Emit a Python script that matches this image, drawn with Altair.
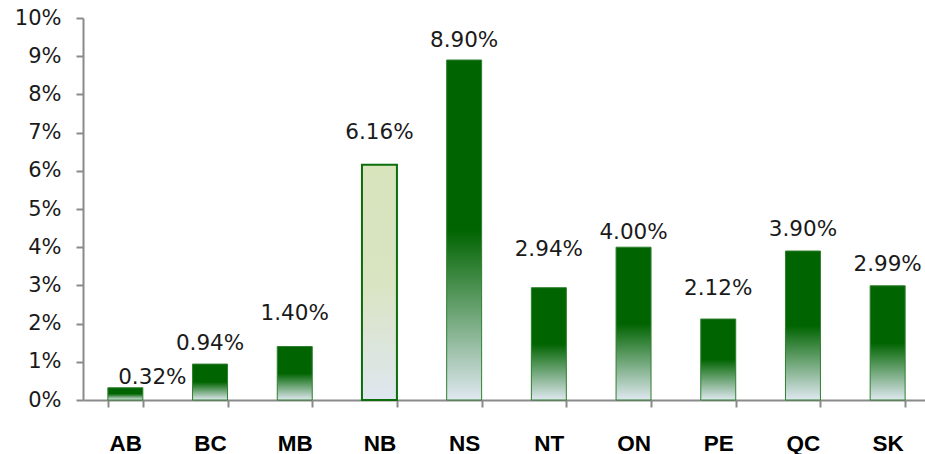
import altair as alt
import pandas as pd

# Provincial rates (percent)
regions = ["AB", "BC", "MB", "NB", "NS", "NT", "ON", "PE", "QC", "SK"]
rates = [0.32, 0.94, 1.40, 6.16, 8.90, 2.94, 4.00, 2.12, 3.90, 2.99]
highlighted = ["NB"]
y_ticks = [0, 1, 2, 3, 4, 5, 6, 7, 8, 9, 10]

# Layout (pixels)
PLOT_W, PLOT_H = 842, 382
BAND_RANGE = 847
PAD_INNER = 0.587

# Pixel gap between each value label's baseline and the top of its bar
label_gap = {"AB": 4, "BC": 14, "MB": 27, "NB": 26, "NS": 13,
             "NT": 32, "ON": 8, "PE": 24, "QC": 15, "SK": 15}

df = pd.DataFrame({"region": regions, "rate": rates})
df["label"] = df["rate"].map(lambda v: f"{v:.2f}%")
df["label_y"] = df["rate"] + df["region"].map(label_gap) * 10 / PLOT_H

DARK = "#006400"
green_fill = {
    "gradient": "linear", "x1": 0, "y1": 0, "x2": 0, "y2": 1,
    "stops": [
        {"offset": 0, "color": DARK},
        {"offset": 0.5, "color": DARK},
        {"offset": 1, "color": "#dfe8f0"},
    ],
}
pale_fill = {
    "gradient": "linear", "x1": 0, "y1": 0, "x2": 0, "y2": 1,
    "stops": [
        {"offset": 0, "color": "#d7e4bc"},
        {"offset": 0.5, "color": "#d9e4c2"},
        {"offset": 1, "color": "#dfe6f0"},
    ],
}

x_scale = alt.Scale(range=[0, BAND_RANGE], paddingInner=PAD_INNER,
                    paddingOuter=PAD_INNER / 2)
x_axis = alt.Axis(
    labelAngle=0, labelFont="Liberation Sans", labelFontWeight="bold",
    labelFontSize=22.5, labelColor="#000000", tickSize=7, labelPadding=25,
    tickBand="extent",
)
y_scale = alt.Scale(domain=[0, 10], nice=False, zero=True)
y_axis = alt.Axis(
    values=y_ticks, tickCount=11, labelExpr="datum.value + '%'", grid=False,
    labelOverlap=False,
    labelFont="DejaVu Sans", labelFontSize=21, labelColor="#1a1a1a",
    tickSize=7, labelPadding=15,
)

x_enc = alt.X("region:N", sort=regions, title=None, scale=x_scale, axis=x_axis)
y_bar = alt.Y("rate:Q", title=None, scale=y_scale, axis=y_axis)
y_lab = alt.Y("label_y:Q", title=None, scale=y_scale, axis=y_axis)

base = alt.Chart(df)

bars = base.transform_filter(
    ~alt.FieldOneOfPredicate(field="region", oneOf=highlighted)
).mark_bar(fill=green_fill, stroke="#2f7f2f", strokeWidth=1).encode(
    x=x_enc, y=y_bar
)

hl_bars = base.transform_filter(
    alt.FieldOneOfPredicate(field="region", oneOf=highlighted)
).mark_bar(fill=pale_fill, stroke="#0b6e0b", strokeWidth=2).encode(
    x=x_enc, y=y_bar
)

text_style = dict(font="DejaVu Sans", fontSize=21.5, color="#1a1a1a",
                  baseline="alphabetic", align="center")

labels = base.transform_filter(alt.datum.region != "AB").mark_text(
    **text_style
).encode(x=x_enc, y=y_lab, text="label:N")

ab_label = base.transform_filter(alt.datum.region == "AB").mark_text(
    dx=27, **text_style
).encode(x=x_enc, y=y_lab, text="label:N")

chart = (
    alt.layer(bars, hl_bars, labels, ab_label)
    .properties(
        width=PLOT_W, height=PLOT_H,
        autosize=alt.AutoSizeParams(type="none"),
        padding={"left": 83, "top": 18, "right": 0, "bottom": 54},
        background="#ffffff",
    )
    .configure_view(stroke=None)
    .configure_axis(
        domainColor="#8a8a8a", domainWidth=2,
        tickColor="#8a8a8a", tickWidth=2,
    )
)

chart.save("out.html", embed_options={"renderer": "svg", "actions": False})
